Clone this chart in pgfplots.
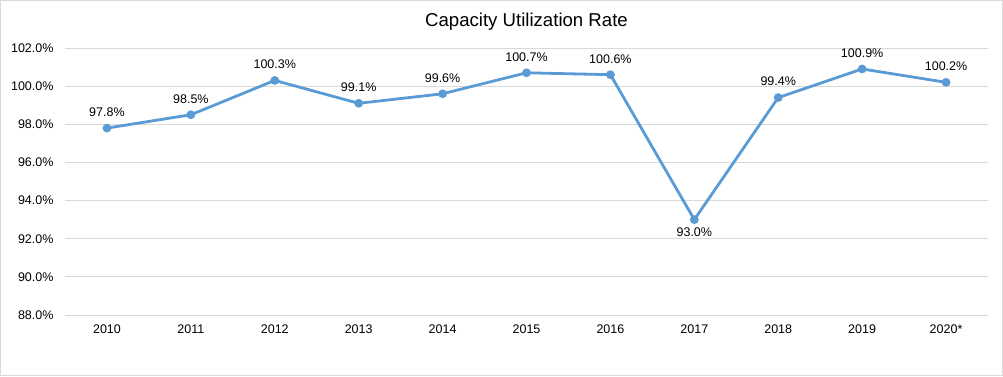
\documentclass[border=0pt]{standalone}
\usepackage{pgfplots}
\pgfplotsset{compat=1.18}
\usepackage{fontspec}
\setmainfont{Liberation Sans}
\definecolor{linec}{HTML}{5B9BD5}
\definecolor{gridc}{HTML}{D9D9D9}
\begin{document}
\begin{tikzpicture}[x=1pt,y=1pt]
\path[use as bounding box] (0,0) rectangle (1003,376);
\draw[gridc, line width=1pt] (0.5,0.5) rectangle (1002.5,375.5);
\begin{axis}[
  at={(65pt,61pt)}, anchor=south west,
  scale only axis, width=923pt, height=267pt,
  xmin=-0.5, xmax=10.5, ymin=88, ymax=102,
  xtick={0,...,10},
  xticklabels={2010,2011,2012,2013,2014,2015,2016,2017,2018,2019,2020*},
  ytick={88,90,...,102},
  yticklabel={\pgfmathprintnumber[fixed,fixed zerofill,precision=1]{\tick}\%},
  /pgf/number format/assume math mode=true,
  ymajorgrids, grid style={gridc, line width=0.9pt},
  axis line style={draw=none},
  major tick length=0pt,
  tick label style={font=\fontsize{12.5}{14}\selectfont},
  yticklabel style={xshift=-8pt},
  xticklabel style={yshift=-6pt},
  title={Capacity Utilization Rate},
  title style={at={(0.5,1)}, anchor=center, yshift=20pt, font=\fontsize{18.6}{22}\selectfont},
  clip=false,
]
\addplot[linec, line width=2.8pt, mark=*, mark size=2.9pt, mark options={solid, fill=linec, draw=none}] coordinates {
(0,97.8) (1,98.5) (2,100.3) (3,99.1) (4,99.6) (5,100.7) (6,100.6) (7,93.0) (8,99.4) (9,100.9) (10,100.2)
};
\addplot[draw=none, mark=none, nodes near coords={\pgfmathprintnumber[fixed,fixed zerofill,precision=1]{\pgfplotspointmeta}\%},
  every node near coord/.append style={anchor=south, yshift=8pt, font=\fontsize{12.5}{14}\selectfont, /pgf/number format/assume math mode=true}] coordinates {
(0,97.8) (1,98.5) (2,100.3) (3,99.1) (4,99.6) (5,100.7) (6,100.6) (8,99.4) (9,100.9) (10,100.2)
};
\addplot[draw=none, mark=none, nodes near coords={\pgfmathprintnumber[fixed,fixed zerofill,precision=1]{\pgfplotspointmeta}\%},
  every node near coord/.append style={anchor=north, yshift=-5pt, font=\fontsize{12.5}{14}\selectfont, /pgf/number format/assume math mode=true}] coordinates {
(7,93.0)
};
\end{axis}
\end{tikzpicture}
\end{document}
